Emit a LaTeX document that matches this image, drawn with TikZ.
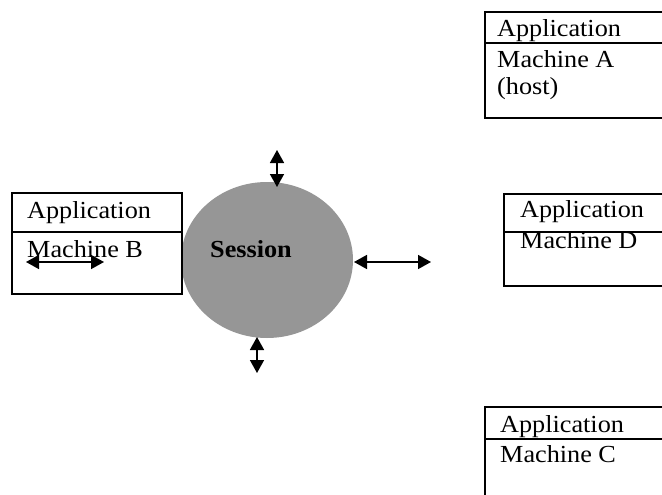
\documentclass[tikz,border=0pt]{standalone}
\usepackage{fontspec}
\setmainfont[FakeStretch=1.07]{Liberation Serif}
\usetikzlibrary{shapes.geometric,arrows.meta}
\definecolor{sessgray}{RGB}{150,150,150}
\tikzset{
  boxline/.style={draw=black, line width=1.3pt},
  lbl/.style={anchor=base west, inner sep=0pt, font=\fontsize{24.5}{28}\selectfont},
  twoway/.style={line width=1.6pt, {Triangle[length=13pt,width=14pt]}-{Triangle[length=13pt,width=14pt]}}
}
\begin{document}
\begin{tikzpicture}[x=1pt,y=-1pt]
\useasboundingbox (0,0) rectangle (662,495);
% Session ellipse
\node[ellipse, fill=sessgray, minimum width=172pt, minimum height=156pt, inner sep=0pt] (sess) at (267,260) {};
\node[lbl, font=\fontsize{24.5}{28}\selectfont\bfseries] (sesslbl) at (210,257) {Session};
% Box A
\draw[boxline] (700,12) -- (485,12) -- (485,118) -- (700,118);
\draw[boxline] (485,43) -- (700,43);
\node[lbl] (aapp) at (497,37) {Application};
\node[lbl] (amach) at (497,68) {Machine A};
\node[lbl] (ahost) at (497,95) {(host)};
% Box D
\draw[boxline] (700,194) -- (504,194) -- (504,286) -- (700,286);
\draw[boxline] (504,232) -- (700,232);
\node[lbl] (dapp) at (520,217) {Application};
\node[lbl] (dmach) at (520,248) {Machine D};
% Box C
\draw[boxline] (700,407) -- (485,407) -- (485,520);
\draw[boxline] (485,439) -- (700,439);
\node[lbl] (capp) at (500,432) {Application};
\node[lbl] (cmach) at (500,462) {Machine C};
% Box B
\draw[boxline] (12,193) rectangle (182,294);
\draw[boxline] (12,232) -- (182,232);
\node[lbl] (bapp) at (27,218) {Application};
\node[lbl] (bmach) at (27,257) {Machine B};
% arrows
\coordinate (topend) at (277,150);
\coordinate (topstart) at (277,187);
\draw[twoway] (topend) -- (topstart);
\coordinate (botstart) at (257,337);
\coordinate (botend) at (257,373);
\draw[twoway] (botstart) -- (botend);
\coordinate (rstart) at (354,262);
\coordinate (rend) at (431,262);
\draw[twoway] (rstart) -- (rend);
\coordinate (bstart) at (26,262);
\coordinate (bend) at (104,262);
\draw[twoway] (bstart) -- (bend);
\end{tikzpicture}
\end{document}
